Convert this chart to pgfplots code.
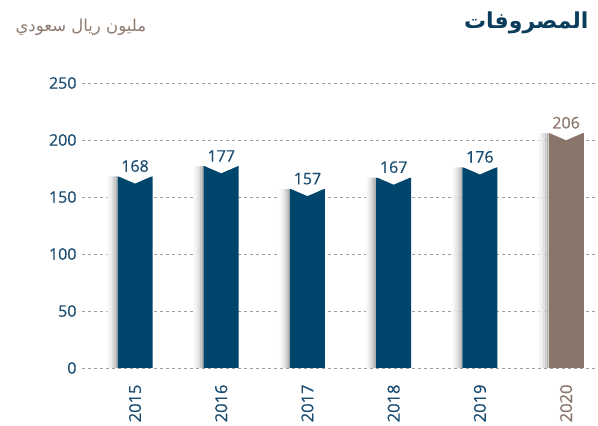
\documentclass[border=0pt]{standalone}
\usepackage{pgfplots}
\pgfplotsset{compat=1.18}
\usepackage{pgfplotstable}
\usepackage{fontspec}
\setmainfont{Open Sans}[FakeBold=0.6]
\newfontfamily\arabicfont[Script=Arabic]{DejaVu Sans}
\TeXXeTstate=1
\definecolor{barblue}{HTML}{00456B}
\definecolor{barbrown}{HTML}{8A756B}
\definecolor{txtblue}{HTML}{1B4D70}
\definecolor{titleblue}{HTML}{0A3D5C}
\definecolor{subbrown}{HTML}{8D7B70}
\pgfdeclareplotmark{notch}{%
  \pgfpathmoveto{\pgfpoint{-17.6pt}{0.6pt}}%
  \pgfpathlineto{\pgfpoint{0pt}{-7pt}}%
  \pgfpathlineto{\pgfpoint{17.6pt}{0.6pt}}%
  \pgfpathclose\pgfusepathqfill}
\pgfplotstableread{
x v
0 168
1 177
2 157
3 167
4 176
5 206
}\expdata
\pgfplotsset{shadowstrip/.style={ybar, bar width=2.1pt, draw=none}}
\begin{document}
\begin{tikzpicture}[x=1pt,y=1pt]
\useasboundingbox (0,0) rectangle (598,426);
\begin{axis}[
  at={(82pt,58pt)}, anchor=south west,
  scale only axis, width=516pt, height=285pt,
  xmin=-0.615, xmax=5.37, ymin=0, ymax=250,
  axis line style={draw=none},
  tick style={draw=none},
  ytick={0,50,100,150,200,250},
  xtick={0,1,2,3,4,5},
  xticklabels={2015,2016,2017,2018,2019,\textcolor{barbrown}{2020}},
  x tick label style={rotate=90, anchor=east, font=\fontsize{16.5}{18}\selectfont, text=txtblue},
  y tick label style={font=\fontsize{16}{18}\selectfont, text=txtblue},
  xticklabel shift=13pt, yticklabel shift=2pt,
  /pgf/number format/assume math mode=true,
  ymajorgrids,
  grid style={dash pattern=on 3pt off 3pt, line width=0.8pt, gray!75},
  clip=false,
]
% shadows (stepped gradient left of each bar)
\addplot[shadowstrip, bar shift=-18.5pt, fill=black!30] table[x=x,y=v] {\expdata};
\addplot[shadowstrip, bar shift=-20.5pt, fill=black!21] table[x=x,y=v] {\expdata};
\addplot[shadowstrip, bar shift=-22.5pt, fill=black!13] table[x=x,y=v] {\expdata};
\addplot[shadowstrip, bar shift=-24.5pt, fill=black!7] table[x=x,y=v] {\expdata};
\addplot[shadowstrip, bar shift=-26.5pt, fill=black!3] table[x=x,y=v] {\expdata};
% bars
\addplot[ybar, bar width=35pt, bar shift=0pt, draw=none, fill=barblue,
  restrict x to domain=0:4,
  nodes near coords, nodes near coords style={text=txtblue, font=\fontsize{16}{18}\selectfont, anchor=south, yshift=1pt},
  /pgf/number format/assume math mode=true]
  table[x=x,y=v] {\expdata};
\addplot[ybar, bar width=35pt, bar shift=0pt, draw=none, fill=barbrown,
  restrict x to domain=5:5,
  nodes near coords, nodes near coords style={text=barbrown, font=\fontsize{16}{18}\selectfont, anchor=south, yshift=1pt},
  /pgf/number format/assume math mode=true]
  table[x=x,y=v] {\expdata};
% notches
\addplot[only marks, mark=notch, mark options={fill=white, draw=none}]
  table[x=x,y=v] {\expdata};
\end{axis}
\node[anchor=east, text=titleblue, font=\arabicfont\bfseries\fontsize{22}{26}\selectfont] at (592,403) {\beginR المصروفات\endR};
\node[anchor=west, text=subbrown, font=\arabicfont\fontsize{16.5}{20}\selectfont] at (12,399) {\beginR مليون ريال سعودي\endR};
\end{tikzpicture}
\end{document}
